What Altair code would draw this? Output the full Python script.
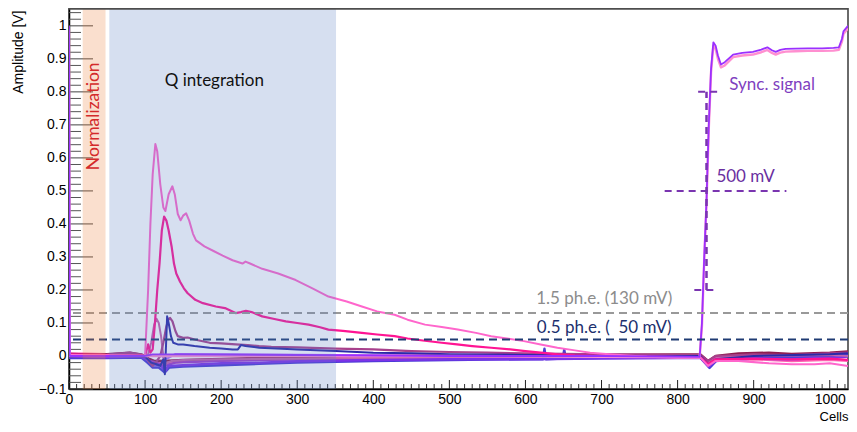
import altair as alt
import pandas as pd

# ---------------- data ----------------
# Sync signal trace (violet)
sync_x = [0, 1, 50, 100, 110, 150, 300, 500, 700, 829, 832, 835, 838, 841, 844, 847, 850, 853, 857, 862,
          873, 885, 899, 910, 918, 924, 929, 935, 942, 955, 971, 990, 1005, 1012, 1016, 1018, 1024]
sync_y = [1.0, 0.0, 0.0, 0.0, 0.005, 0.005, 0.003, 0.0, 0.0, -0.003, 0.1, 0.3, 0.47, 0.7, 0.87, 0.95, 0.94,
          0.91, 0.883, 0.89, 0.913, 0.918, 0.921, 0.928, 0.935, 0.926, 0.921, 0.927, 0.93, 0.931, 0.932,
          0.932, 0.933, 0.935, 0.96, 0.983, 1.0]

# Second sync trace (pink shadow)
sync2_x = [0, 1, 100, 500, 829, 832, 835, 838, 841, 844, 847, 850, 853, 857, 862, 873, 885, 899, 910, 918,
           924, 929, 935, 942, 955, 971, 990, 1005, 1012, 1016, 1018, 1024]
sync2_y = [0.99, 0.0, 0.0, 0.0, -0.004, 0.09, 0.29, 0.46, 0.69, 0.86, 0.94, 0.93, 0.9, 0.874, 0.88, 0.905,
           0.91, 0.913, 0.92, 0.927, 0.918, 0.913, 0.919, 0.922, 0.923, 0.924, 0.924, 0.925, 0.927, 0.952,
           0.975, 0.992]

# Largest pulse (pink)
big_x = [0, 50, 95, 100, 104, 107, 110, 113.5, 116, 120, 124, 126.7, 131, 135.9, 139, 143, 146.7, 150, 154,
         158, 163, 167, 178, 190, 202, 215, 228, 232, 238, 254, 275, 298, 320, 341, 365, 385, 405, 428, 445,
         468, 490, 511, 535, 555, 578, 598, 620, 642, 665, 685, 710, 729, 760, 800, 830, 840, 850, 880, 920,
         950, 980, 1000, 1024]
big_y = [0.003, 0.002, 0.0, 0.0, 0.2, 0.4, 0.55, 0.642, 0.62, 0.52, 0.45, 0.439, 0.49, 0.514, 0.49, 0.43,
         0.411, 0.425, 0.432, 0.41, 0.37, 0.35, 0.332, 0.318, 0.304, 0.29, 0.28, 0.286, 0.28, 0.264, 0.25,
         0.23, 0.205, 0.18, 0.165, 0.15, 0.135, 0.125, 0.11, 0.095, 0.088, 0.08, 0.07, 0.06, 0.052, 0.045,
         0.035, 0.025, 0.017, 0.01, 0.005, 0.002, -0.002, -0.005, -0.005, -0.03, -0.015, -0.015, -0.022,
         -0.025, -0.025, -0.022, -0.03]

# Second pulse (deep pink)
mag_x = [0, 50, 95, 100, 104, 107, 110, 113, 116, 119, 122, 125, 128, 131, 135, 138, 141, 146, 151, 156,
         166, 176, 193, 205, 219, 226, 232.5, 240, 254, 270, 285, 300, 315, 330, 341, 360, 385, 405, 428,
         445, 465, 490, 510, 530, 555, 580, 600, 620, 642, 665, 700, 760, 800, 830, 840, 850, 900, 950,
         1000, 1024]
mag_y = [0.005, 0.003, 0.002, 0.0, 0.035, 0.01, 0.02, 0.1, 0.2, 0.28, 0.38, 0.422, 0.41, 0.38, 0.33, 0.28,
         0.25, 0.225, 0.205, 0.19, 0.17, 0.16, 0.15, 0.145, 0.13, 0.133, 0.137, 0.133, 0.12, 0.112, 0.105,
         0.1, 0.095, 0.087, 0.08, 0.076, 0.07, 0.065, 0.06, 0.053, 0.047, 0.04, 0.035, 0.03, 0.025, 0.02,
         0.015, 0.01, 0.005, 0.002, 0.0, -0.002, -0.003, -0.003, -0.025, -0.01, -0.008, -0.01, -0.008, -0.012]

# Small pulse A (light mauve)
mauveA_x = [0, 50, 100, 104, 108, 112, 115, 118, 121, 124, 126, 129, 135, 150, 200, 300, 400, 500, 700,
            830, 840, 850, 900, 1000, 1024]
mauveA_y = [0.0, 0.002, 0.0, 0.005, 0.04, 0.095, 0.113, 0.1, 0.06, 0.0, -0.03, -0.02, -0.015, -0.012,
            -0.01, -0.008, -0.005, -0.003, 0.0, 0.0, -0.02, -0.005, 0.0, 0.003, 0.0]

# Small pulse B (mauve)
mauveB_x = [0, 50, 80, 100, 106, 110, 114, 120, 124, 128, 131, 133, 136, 140, 143, 150, 156, 165, 185, 200,
            219, 235, 250, 266, 300, 350, 400, 450, 500, 550, 600, 700, 800, 830, 840, 850, 900, 950, 1000,
            1024]
mauveB_y = [0.003, 0.004, 0.01, 0.002, -0.02, -0.03, -0.02, 0.0, 0.04, 0.09, 0.112, 0.115, 0.105, 0.075,
            0.06, 0.055, 0.056, 0.05, 0.04, 0.038, 0.035, 0.033, 0.03, 0.028, 0.026, 0.022, 0.02, 0.015,
            0.012, 0.01, 0.008, 0.005, 0.003, 0.003, -0.015, 0.0, 0.005, 0.003, 0.008, 0.01]

# Small pulse C (dark blue)
dblue_x = [0, 50, 100, 108, 115, 120, 124, 126, 127, 129, 131, 134, 137, 143, 150, 165, 185, 200, 215, 222,
           226, 232, 250, 280, 300, 350, 400, 450, 500, 600, 700, 800, 830, 840, 850, 900, 1000, 1024]
dblue_y = [-0.002, 0.0, -0.002, -0.02, -0.025, -0.03, -0.01, -0.055, 0.0, 0.12, 0.1, 0.06, 0.04, 0.035,
           0.035, 0.03, 0.025, 0.023, 0.02, 0.02, 0.033, 0.03, 0.025, 0.022, 0.02, 0.015, 0.01, 0.008, 0.005,
           0.003, 0.0, 0.0, 0.0, -0.025, -0.01, 0.0, 0.005, 0.008]

# Baseline traces
lilac_x = [0, 50, 100, 108, 120, 127, 140, 200, 300, 400, 500, 600, 700, 800, 830, 840, 850, 900, 950, 1000, 1024]
lilac_y = [0.004, 0.002, 0.003, 0.0, 0.004, -0.01, 0.006, 0.005, 0.004, 0.002, 0.0, 0.0, 0.0, 0.0, 0.0,
           -0.018, -0.005, 0.003, 0.002, 0.004, 0.006]

violet_x = [0, 50, 95, 103, 110, 120, 127, 130, 150, 200, 250, 300, 400, 500, 600, 700, 800, 830, 841, 850,
            900, 950, 1000, 1024]
violet_y = [-0.002, -0.004, -0.002, -0.012, -0.025, -0.028, -0.045, -0.03, -0.028, -0.022, -0.02, -0.016,
            -0.012, -0.01, -0.01, -0.008, -0.006, -0.006, -0.032, -0.015, -0.008, -0.01, -0.006, -0.002]

blue_x = [0, 50, 95, 103, 110, 118, 126, 132, 150, 200, 250, 300, 400, 500, 600, 623, 625, 627, 649, 651,
          653, 700, 800, 830, 842, 852, 900, 950, 1000, 1024]
blue_y = [-0.006, -0.006, -0.005, -0.02, -0.035, -0.035, -0.05, -0.035, -0.032, -0.028, -0.024, -0.02,
          -0.015, -0.012, -0.01, -0.01, 0.022, -0.01, -0.008, 0.02, -0.008, -0.006, -0.005, -0.005, -0.036,
          -0.012, -0.004, -0.003, 0.0, 0.004]

maroon_x = [0, 40, 80, 95, 105, 112, 130, 150, 200, 250, 300, 400, 500, 600, 700, 800, 830, 840, 850, 880,
            920, 950, 1000, 1024]
maroon_y = [0.006, 0.004, 0.01, 0.005, -0.008, -0.015, -0.014, -0.012, -0.009, -0.006, -0.004, 0.0, 0.002,
            0.003, 0.004, 0.005, 0.005, -0.015, 0.0, 0.008, 0.01, 0.006, 0.01, 0.014]

purple_x = [0, 50, 100, 106, 115, 125, 140, 200, 300, 400, 500, 600, 700, 800, 830, 840, 850, 900, 950, 1000, 1024]
purple_y = [0.0, 0.0, 0.0, -0.015, -0.02, -0.03, -0.02, -0.015, -0.01, -0.008, -0.005, -0.004, -0.002,
            -0.002, -0.002, -0.025, -0.008, -0.002, -0.004, 0.0, 0.004]

pink_x = [0, 50, 95, 105, 112, 125, 150, 200, 300, 400, 500, 600, 700, 800, 830, 840, 850, 900, 950, 1000, 1024]
pink_y = [0.008, 0.006, 0.003, -0.01, -0.02, -0.022, -0.018, -0.014, -0.01, -0.008, -0.006, -0.004, -0.004,
          -0.004, -0.004, -0.028, -0.012, -0.01, -0.016, -0.012, -0.015]

# Thresholds (V) and their labels
thr_values = [0.13, 0.05]
thr_labels = ["1.5 ph.e. (130 mV)", "0.5 ph.e. (\u00a0\u00a050 mV)"]

# Shaded windows (cells)
norm_window = [18, 48]
q_window = [53, 351]

# Sync-signal scale marker (cells, volts)
marker_x = 838
marker_levels = [0.8, 0.5, 0.2]
marker_spans = [[827, 857], [783, 943], [822, 848]]

# Axis tick values
x_major = [0, 100, 200, 300, 400, 500, 600, 700, 800, 900, 1000]
y_major = [-0.1, 0, 0.1, 0.2, 0.3, 0.4, 0.5, 0.6, 0.7, 0.8, 0.9, 1.0]
x_minor = [v for v in range(0, 1025, 10) if v % 100 != 0]
y_minor = [round(-0.1 + 0.02 * i, 2) for i in range(58) if i % 5 != 0]

# ---------------- chart ----------------
W, H = 779, 381
LABEL_FONT = "Liberation Sans"
ANN_FONT = "Lato"

xscale = alt.Scale(domain=[0, 1024], nice=False, zero=False)
yscale = alt.Scale(domain=[-0.1, 1.054], nice=False, zero=False)

xaxis = alt.Axis(values=x_major, format="d", ticks=False, grid=False, domainColor="black", domainWidth=1.5,
                 labelFont=LABEL_FONT, labelFontSize=14, labelColor="black", labelPadding=3,
                 labelFlush=False, labelOverlap=False, labelBound=False,
                 title="Cells", titleFont=LABEL_FONT, titleFontSize=13, titleFontWeight="normal",
                 titleColor="black", titleAlign="right", titleAnchor="end", titleX=W, titleY=31,
                 titleBaseline="alphabetic")
yaxis = alt.Axis(values=y_major, format="~g", ticks=False, grid=False, domainColor="black", domainWidth=1.5,
                 labelFont=LABEL_FONT, labelFontSize=14, labelColor="black", labelPadding=3,
                 labelFlush=False, labelOverlap=False, labelBound=False,
                 title="Amplitude [V]", titleFont=LABEL_FONT, titleFontSize=14, titleFontWeight="normal",
                 titleColor="black", titleAngle=270, titleAlign="right", titleAnchor="end",
                 titleX=-47, titleY=2, titleBaseline="alphabetic")


def X(field="cell"):
    return alt.X(f"{field}:Q", scale=xscale, axis=xaxis)


def Y(field="amp"):
    return alt.Y(f"{field}:Q", scale=yscale, axis=yaxis)


layers = []

# Tick marks drawn inward (ROOT style)
layers.append(alt.Chart(pd.DataFrame({"amp": y_major})).mark_rule(color="#444444", strokeWidth=1)
              .encode(y=Y(), x=alt.value(0), x2=alt.value(24)))
layers.append(alt.Chart(pd.DataFrame({"amp": y_minor})).mark_rule(color="#555555", strokeWidth=1)
              .encode(y=Y(), x=alt.value(0), x2=alt.value(12)))
layers.append(alt.Chart(pd.DataFrame({"cell": x_major})).mark_rule(color="#222222", strokeWidth=1)
              .encode(x=X(), y=alt.value(H), y2=alt.value(H - 9)))
layers.append(alt.Chart(pd.DataFrame({"cell": x_minor})).mark_rule(color="#333333", strokeWidth=1)
              .encode(x=X(), y=alt.value(H), y2=alt.value(H - 5)))

traces = [
    ("#ff5fb0", 2.2, pink_x, pink_y),
    ("#8c1d4f", 2.4, maroon_x, maroon_y),
    ("#a03cc8", 2.2, purple_x, purple_y),
    ("#b266ff", 2.0, lilac_x, lilac_y),
    ("#4b3bd6", 2.4, blue_x, blue_y),
    ("#7d32e8", 2.4, violet_x, violet_y),
    ("#c463ad", 2.0, mauveA_x, mauveA_y),
    ("#a8408c", 2.2, mauveB_x, mauveB_y),
    ("#2a2aa8", 2.0, dblue_x, dblue_y),
    ("#ff1493", 2.2, mag_x, mag_y),
    ("#ff66cc", 2.0, big_x, big_y),
    ("#ff8fd0", 2.4, sync2_x, sync2_y),
    ("#9b30ff", 1.8, sync_x, sync_y),
]
for color, sw, xs, ys in traces:
    df = pd.DataFrame({"cell": xs, "amp": ys})
    layers.append(alt.Chart(df).mark_line(color=color, strokeWidth=sw, clip=True, strokeJoin="round")
                  .encode(x=X(), y=Y()))

# Threshold dashed lines
thr_colors = ["#999999", "#1f3b73"]
for v, c in zip(thr_values, thr_colors):
    layers.append(alt.Chart(pd.DataFrame({"amp": [v]}))
                  .mark_rule(color=c, strokeWidth=2, strokeDash=[8, 5]).encode(y=Y()))

# Sync-signal scale marker
mk = "#7a35b0"
layers.append(alt.Chart(pd.DataFrame({"cell": [marker_x], "amp": [marker_levels[2]], "amp2": [marker_levels[0]]}))
              .mark_rule(color=mk, strokeWidth=2.5, strokeDash=[7, 5])
              .encode(x=X(), y=Y(), y2=alt.Y2("amp2:Q")))
layers.append(alt.Chart(pd.DataFrame({"cell": [s[0] for s in marker_spans],
                                      "cell2": [s[1] for s in marker_spans],
                                      "amp": marker_levels}))
              .mark_rule(color=mk, strokeWidth=2, strokeDash=[7, 5])
              .encode(x=X(), x2=alt.X2("cell2:Q"), y=Y()))

# Shaded windows drawn on top, semi-transparent
layers.append(alt.Chart(pd.DataFrame({"cell": [norm_window[0]], "cell2": [norm_window[1]]}))
              .mark_rect(color="#eb7f3b", opacity=0.25)
              .encode(x=X(), x2=alt.X2("cell2:Q"), y=alt.value(0), y2=alt.value(H)))
layers.append(alt.Chart(pd.DataFrame({"cell": [q_window[0]], "cell2": [q_window[1]]}))
              .mark_rect(color="#5b7fc3", opacity=0.25)
              .encode(x=X(), x2=alt.X2("cell2:Q"), y=alt.value(0), y2=alt.value(H)))

# Top frame line
layers.append(alt.Chart(pd.DataFrame({"cell": [0]})).mark_rule(color="#4d4d4d", strokeWidth=2.5)
              .encode(x=alt.value(0), x2=alt.value(W), y=alt.value(0.5)))


def label(text, cell, amp, color, size, align="center", angle=0, weight="normal"):
    df = pd.DataFrame({"cell": [cell], "amp": [amp], "t": [text]})
    return alt.Chart(df).mark_text(font=ANN_FONT, fontSize=size, color=color, align=align,
                                   baseline="middle", angle=angle, fontWeight=weight).encode(
        x=X(), y=Y(), text="t:N")


layers.append(label("Q integration", 191, 0.833, "#111111", 17))
layers.append(label("Normalization", 32.5, 0.726, "#d42a2a", 17.5, angle=270))
layers.append(label(thr_labels[0], 703.5, 0.174, "#8c8c8c", 17))
layers.append(label(thr_labels[1], 703.5, 0.085, "#1c2f6e", 17))
layers.append(label("Sync. signal", 868, 0.821, "#7f3fbf", 17, align="left"))
layers.append(label("500 mV", 851, 0.541, "#6a2fa0", 17, align="left"))

chart = alt.layer(*layers).properties(
    width=W, height=H,
    autosize=alt.AutoSizeParams(type="none"),
    padding={"left": 61, "top": 0, "right": 1, "bottom": 35},
    background="white",
).configure_view(stroke="#3a3a3a", strokeWidth=1.5)

chart.save("out.html", embed_options={"renderer": "svg", "actions": False})
